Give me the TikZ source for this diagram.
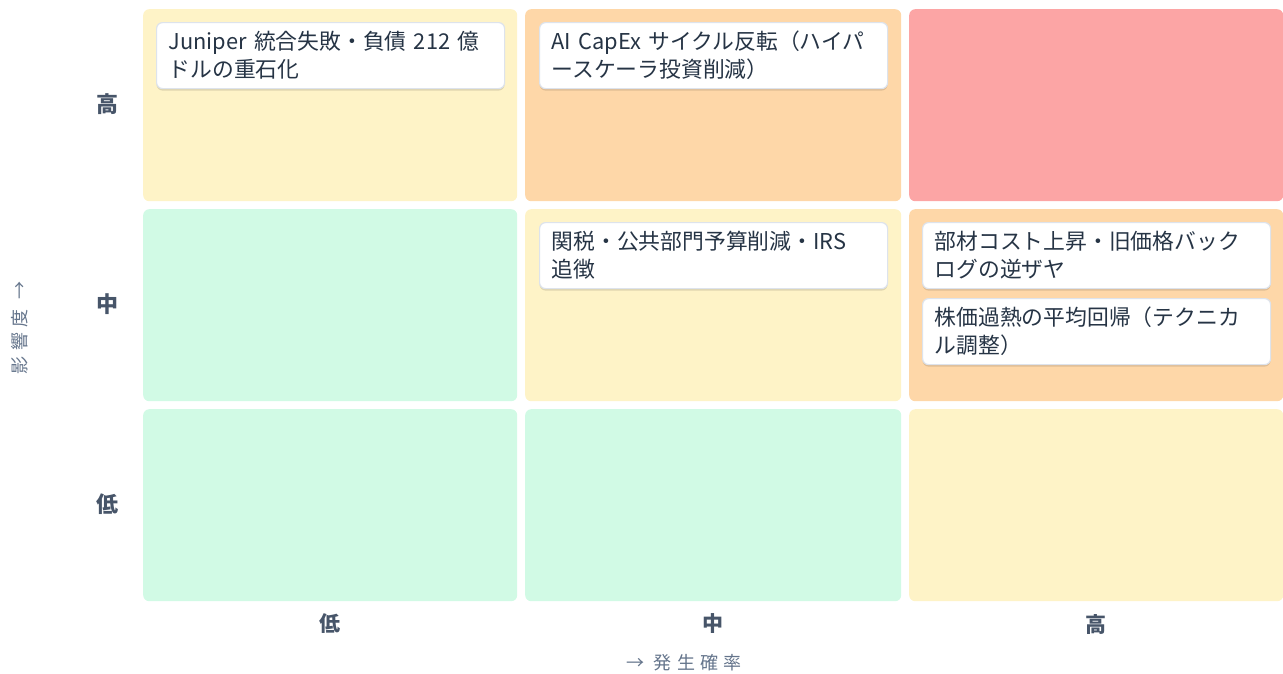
\documentclass[tikz,border=0pt]{standalone}
\usepackage{fontspec}
\setmainfont{Noto Sans CJK JP}
\newfontfamily\axisfont[LetterSpace=30]{Noto Sans CJK JP}
\usetikzlibrary{shadows}
\definecolor{cyellow}{HTML}{FEF3C7}
\definecolor{corange}{HTML}{FED7A8}
\definecolor{cred}{HTML}{FCA5A5}
\definecolor{cgreen}{HTML}{D1FAE5}
\definecolor{cardtext}{HTML}{263445}
\definecolor{cardborder}{HTML}{DDE3EC}
\definecolor{lbl}{HTML}{475569}
\definecolor{axlbl}{HTML}{64748B}
\tikzset{
  cell/.style={rounded corners=6pt, draw=none, anchor=north west, minimum height=192pt, inner sep=0pt},
  card/.style={rounded corners=6pt, fill=white, draw=cardborder, line width=1.2pt, anchor=north west,
    minimum width=348pt, minimum height=66pt, text width=324pt, inner xsep=12pt, inner ysep=0pt, align=left,
    text=cardtext, font=\fontsize{21.8}{28}\selectfont,
    drop shadow={shadow xshift=0pt, shadow yshift=-2pt, opacity=0.12, fill=black}},
  rowlbl/.style={text=lbl, font=\fontsize{22}{26}\selectfont\bfseries},
  collbl/.style={text=lbl, font=\fontsize{21}{26}\selectfont\bfseries},
  axislbl/.style={text=axlbl, font=\fontsize{18}{22}\selectfont\axisfont}
}
\begin{document}
\begin{tikzpicture}[x=1pt,y=-1pt]
\useasboundingbox (0,0) rectangle (1283,673);
% cells
\node[cell, fill=cyellow, minimum width=374pt] (c11) at (143,9) {};
\node[cell, fill=corange, minimum width=376pt] (c12) at (525,9) {};
\node[cell, fill=cred,    minimum width=374pt] (c13) at (909,9) {};
\node[cell, fill=cgreen,  minimum width=374pt] (c21) at (143,209) {};
\node[cell, fill=cyellow, minimum width=376pt] (c22) at (525,209) {};
\node[cell, fill=corange, minimum width=374pt] (c23) at (909,209) {};
\node[cell, fill=cgreen,  minimum width=374pt] (c31) at (143,409) {};
\node[cell, fill=cgreen,  minimum width=376pt] (c32) at (525,409) {};
\node[cell, fill=cyellow, minimum width=374pt] (c33) at (909,409) {};
% cards
\node[card] (k1) at (156,22) {Juniper 統合失敗・負債 212 億\\ドルの重石化};
\node[card] (k2) at (539,22) {AI CapEx サイクル反転（ハイパ\\ースケーラ投資削減）};
\node[card] (k3) at (539,222) {関税・公共部門予算削減・IRS\\追徴};
\node[card] (k4) at (922,222) {部材コスト上昇・旧価格バック\\ログの逆ザヤ};
\node[card] (k5) at (922,298) {株価過熱の平均回帰（テクニカ\\ル調整）};
% row labels
\node[rowlbl] (rh) at (107,104) {高};
\node[rowlbl] (rm) at (107,304) {中};
\node[rowlbl] (rl) at (107,504) {低};
% column labels
\node[collbl] (cl) at (330,624) {低};
\node[collbl] (cm) at (713,624) {中};
\node[collbl] (ch) at (1096,624) {高};
% axis labels
\node[axislbl] (xa) at (684,663) {→ 発生確率};
\node[axislbl, rotate=90] (ya) at (20,328) {影響度 →};
\end{tikzpicture}
\end{document}
